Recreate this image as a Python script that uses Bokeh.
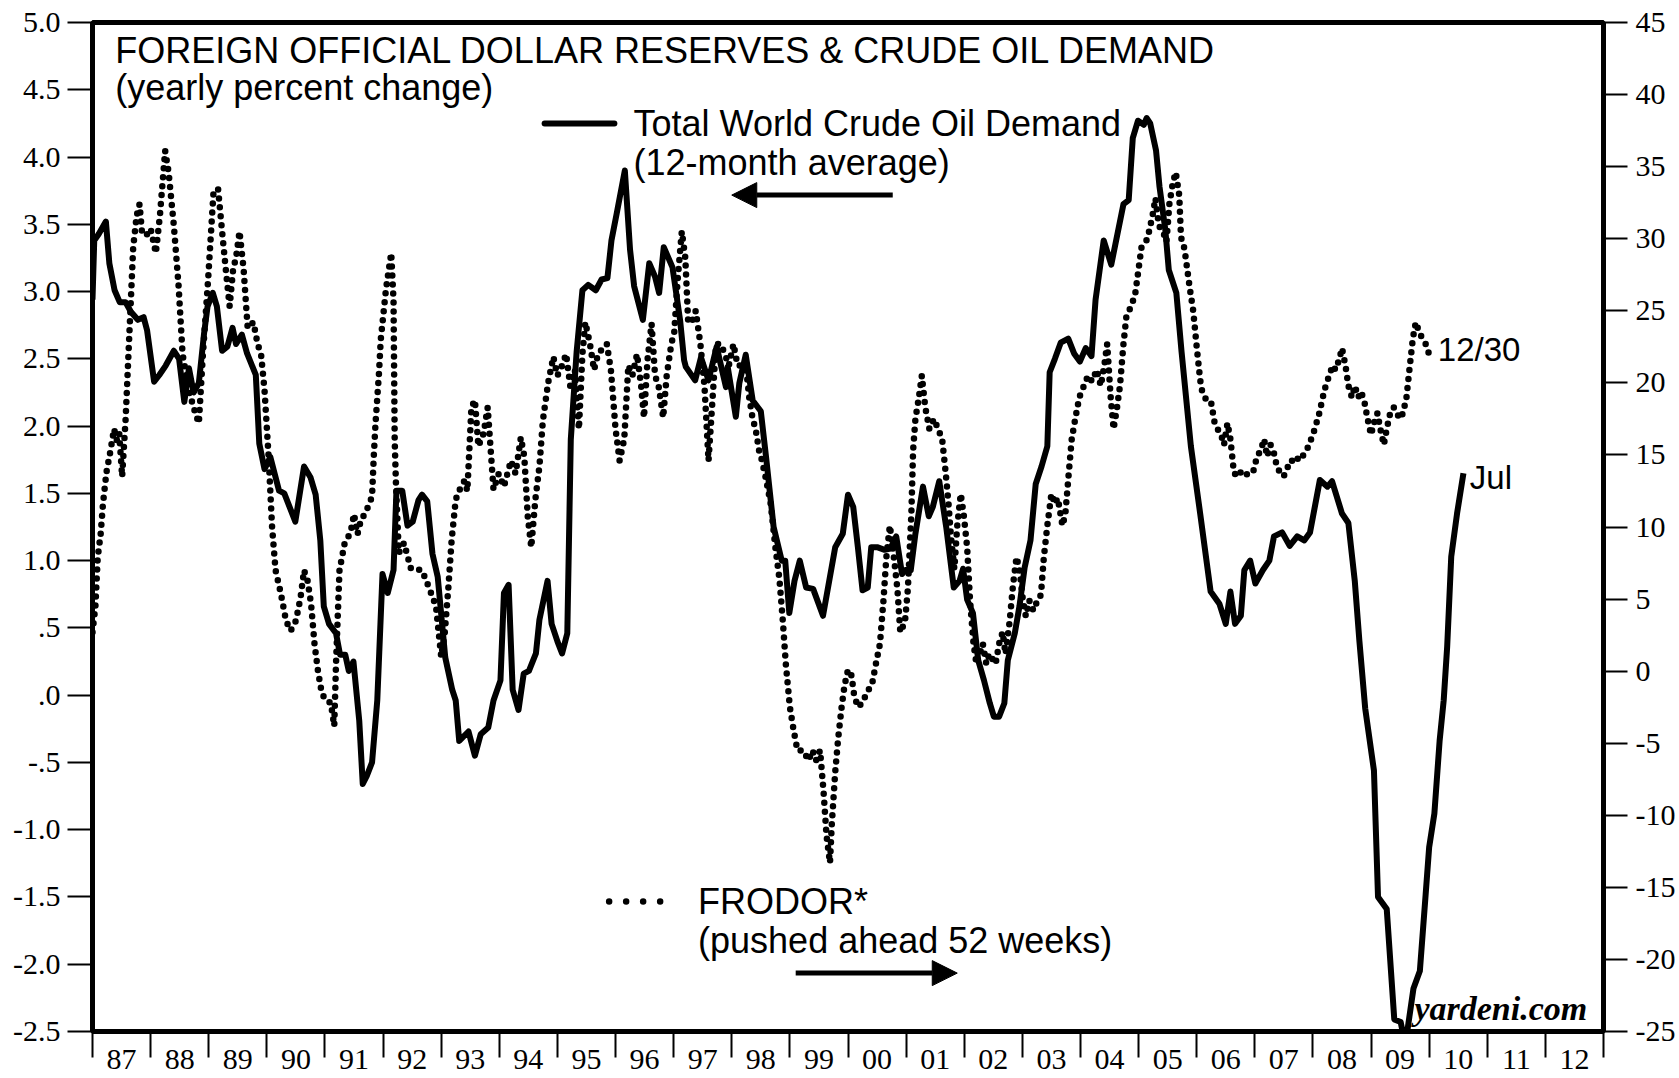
from bokeh.plotting import figure
from bokeh.models import (Range1d, LinearAxis, FixedTicker, Label,
                          Arrow, NormalHead)
from bokeh.embed import file_html
from bokeh.resources import INLINE

# ---------------- data ----------------
# Total World Crude Oil Demand, 12-month average, yearly % change (left axis)
oil_dates = [
    1987.00, 1987.03, 1987.11, 1987.23, 1987.29, 1987.38, 1987.47, 1987.57, 1987.66, 1987.78, 1987.88, 1987.94,
    1988.06, 1988.15, 1988.26, 1988.40, 1988.49, 1988.58, 1988.66, 1988.74, 1988.83, 1988.92, 1988.98,
    1989.07, 1989.14, 1989.23, 1989.32, 1989.41, 1989.47, 1989.57, 1989.66, 1989.81, 1989.87, 1989.96,
    1990.06, 1990.21, 1990.30, 1990.49, 1990.64, 1990.75, 1990.84, 1990.92, 1990.98,
    1991.07, 1991.19, 1991.26, 1991.35, 1991.41, 1991.49, 1991.59, 1991.65, 1991.72, 1991.81, 1991.90, 1991.99,
    1992.08, 1992.18, 1992.23, 1992.33, 1992.42, 1992.51, 1992.61, 1992.67, 1992.76, 1992.85, 1992.94,
    1993.07, 1993.19, 1993.25, 1993.31, 1993.47, 1993.58, 1993.68, 1993.81, 1993.90,
    1994.02, 1994.08, 1994.16, 1994.23, 1994.33, 1994.42, 1994.51, 1994.63, 1994.69, 1994.83, 1994.90,
    1995.00, 1995.08, 1995.17, 1995.23, 1995.33, 1995.43, 1995.53, 1995.66, 1995.76, 1995.86, 1995.93,
    1996.02, 1996.16, 1996.25, 1996.32, 1996.47, 1996.58, 1996.68, 1996.75, 1996.83, 1996.98,
    1997.11, 1997.18, 1997.21, 1997.37, 1997.47, 1997.60, 1997.74, 1997.90, 1997.93,
    1998.07, 1998.13, 1998.24, 1998.36, 1998.50, 1998.59, 1998.72, 1998.86, 1998.92, 1998.99,
    1999.08, 1999.17, 1999.28, 1999.40, 1999.57, 1999.78, 1999.91,
    2000.00, 2000.09, 2000.17, 2000.25, 2000.34, 2000.40, 2000.50, 2000.63, 2000.73, 2000.83, 2000.93, 2000.99,
    2001.08, 2001.16, 2001.29, 2001.39, 2001.46, 2001.57, 2001.69, 2001.82, 2001.92, 2001.98,
    2002.05, 2002.15, 2002.24, 2002.34, 2002.44, 2002.51, 2002.60, 2002.69, 2002.75, 2002.87, 2002.95,
    2003.04, 2003.14, 2003.23, 2003.33, 2003.43, 2003.47, 2003.56, 2003.66, 2003.79, 2003.89, 2003.99,
    2004.09, 2004.19, 2004.26, 2004.40, 2004.53, 2004.74, 2004.83, 2004.90, 2004.99,
    2005.09, 2005.14, 2005.20, 2005.30, 2005.36, 2005.46, 2005.52, 2005.65, 2005.74, 2005.90,
    2006.06, 2006.24, 2006.39, 2006.50, 2006.58, 2006.66, 2006.76, 2006.82, 2006.92,
    2007.01, 2007.14, 2007.25, 2007.33, 2007.47, 2007.60, 2007.73, 2007.85, 2007.95,
    2008.12, 2008.25, 2008.33, 2008.50, 2008.61, 2008.72, 2008.80, 2008.90,
    2009.05, 2009.12, 2009.27, 2009.40, 2009.51, 2009.59, 2009.73, 2009.84, 2009.94,
    2010.00, 2010.09, 2010.18, 2010.25, 2010.31, 2010.38, 2010.48, 2010.59,
]
oil_pct = [
    2.94, 3.38, 3.43, 3.52, 3.21, 3.01, 2.92, 2.92, 2.85, 2.79, 2.81, 2.71,
    2.33, 2.38, 2.45, 2.56, 2.50, 2.18, 2.43, 2.25, 2.32, 2.69, 2.89,
    2.99, 2.89, 2.56, 2.59, 2.73, 2.61, 2.68, 2.54, 2.38, 1.87, 1.68,
    1.77, 1.52, 1.50, 1.29, 1.70, 1.62, 1.49, 1.15, 0.66,
    0.53, 0.46, 0.30, 0.30, 0.18, 0.25, -0.19, -0.66, -0.60, -0.50, -0.04, 0.90,
    0.76, 0.93, 1.52, 1.52, 1.26, 1.29, 1.45, 1.49, 1.44, 1.05, 0.88,
    0.28, 0.04, -0.04, -0.34, -0.27, -0.45, -0.29, -0.24, -0.04,
    0.11, 0.76, 0.82, 0.04, -0.11, 0.16, 0.18, 0.31, 0.56, 0.85, 0.53,
    0.40, 0.31, 0.46, 1.90, 2.55, 3.01, 3.05, 3.01, 3.09, 3.10, 3.38,
    3.58, 3.90, 3.31, 3.04, 2.79, 3.21, 3.11, 2.99, 3.33, 3.18,
    2.79, 2.49, 2.44, 2.34, 2.51, 2.34, 2.59, 2.29, 2.44,
    2.07, 2.32, 2.53, 2.19, 2.11, 1.77, 1.25, 1.00, 1.00, 0.61,
    0.85, 1.00, 0.80, 0.79, 0.59, 1.10, 1.20,
    1.49, 1.40, 1.10, 0.78, 0.80, 1.10, 1.10, 1.08, 1.09, 1.18, 0.90, 0.93,
    0.93, 1.20, 1.55, 1.33, 1.40, 1.59, 1.25, 0.80, 0.85, 0.94,
    0.71, 0.61, 0.26, 0.11, -0.06, -0.16, -0.16, -0.06, 0.26, 0.46, 0.66,
    0.95, 1.15, 1.57, 1.70, 1.85, 2.40, 2.50, 2.62, 2.65, 2.54, 2.48,
    2.58, 2.52, 2.94, 3.38, 3.20, 3.65, 3.68, 4.14, 4.27,
    4.24, 4.29, 4.25, 4.05, 3.78, 3.46, 3.16, 2.99, 2.55, 1.85,
    1.35, 0.77, 0.68, 0.53, 0.77, 0.53, 0.59, 0.93, 1.00,
    0.83, 0.93, 1.00, 1.18, 1.21, 1.11, 1.18, 1.15, 1.21,
    1.60, 1.55, 1.59, 1.35, 1.28, 0.85, 0.40, -0.10,
    -0.56, -1.50, -1.59, -2.41, -2.43, -2.60, -2.18, -2.05, -1.48,
    -1.13, -0.88, -0.34, -0.04, 0.36, 1.03, 1.35, 1.65,
]

# FRODOR, yearly % change, pushed ahead 52 weeks (right axis)
frodor_dates = [
    1987.00, 1987.05, 1987.09, 1987.14, 1987.18, 1987.24, 1987.31, 1987.37, 1987.42, 1987.46, 1987.51, 1987.57,
    1987.63, 1987.70, 1987.76, 1987.81, 1987.85, 1987.92,
    1988.00, 1988.09, 1988.16, 1988.25, 1988.31, 1988.40, 1988.48, 1988.55, 1988.66, 1988.77, 1988.83, 1988.90, 1988.99,
    1989.08, 1989.16, 1989.23, 1989.30, 1989.36, 1989.42, 1989.47, 1989.53, 1989.60, 1989.67, 1989.77, 1989.84,
    1989.90, 1989.96,
    1990.03, 1990.09, 1990.15, 1990.24, 1990.33, 1990.41, 1990.50, 1990.58, 1990.64, 1990.70, 1990.76, 1990.82,
    1990.88, 1990.94,
    1991.00, 1991.10, 1991.16, 1991.19, 1991.22, 1991.25, 1991.34, 1991.44, 1991.50, 1991.56, 1991.62, 1991.70,
    1991.81, 1991.84, 1991.87, 1991.93, 1991.96,
    1992.05, 1992.14, 1992.18, 1992.20, 1992.22, 1992.27, 1992.36, 1992.48, 1992.67, 1992.79, 1992.91,
    1993.00, 1993.06, 1993.12, 1993.18, 1993.25, 1993.34, 1993.40, 1993.45, 1993.52, 1993.58, 1993.64, 1993.73,
    1993.80, 1993.90, 1993.99,
    1994.08, 1994.20, 1994.28, 1994.37, 1994.43, 1994.49, 1994.55, 1994.62, 1994.69, 1994.75, 1994.84, 1994.93,
    1995.00, 1995.08, 1995.15, 1995.22, 1995.30, 1995.37, 1995.43, 1995.48, 1995.56, 1995.63, 1995.70, 1995.78,
    1995.85, 1995.92,
    1996.00, 1996.07, 1996.15, 1996.22, 1996.29, 1996.37, 1996.44, 1996.49, 1996.55, 1996.62, 1996.68, 1996.74,
    1996.82, 1996.88, 1996.96,
    1997.01, 1997.07, 1997.14, 1997.20, 1997.25, 1997.31, 1997.38, 1997.46, 1997.53, 1997.60, 1997.66, 1997.73,
    1997.81, 1997.88, 1997.95,
    1998.03, 1998.10, 1998.17, 1998.25, 1998.30, 1998.36, 1998.41, 1998.47, 1998.52, 1998.60, 1998.67, 1998.75,
    1998.82, 1998.88, 1998.93,
    1999.00, 1999.06, 1999.13, 1999.23, 1999.32, 1999.39, 1999.45, 1999.52, 1999.58, 1999.63, 1999.69, 1999.72,
    1999.78, 1999.83, 1999.89, 1999.94,
    2000.00, 2000.06, 2000.11, 2000.18, 2000.26, 2000.33, 2000.41, 2000.48, 2000.55, 2000.61, 2000.66, 2000.72,
    2000.77, 2000.85, 2000.90, 2000.98,
    2001.03, 2001.09, 2001.12, 2001.16, 2001.22, 2001.27, 2001.33, 2001.40, 2001.48, 2001.55, 2001.62, 2001.68,
    2001.73, 2001.77, 2001.83, 2001.88, 2001.94, 2001.99,
    2002.05, 2002.10, 2002.16, 2002.21, 2002.27, 2002.32, 2002.38, 2002.43, 2002.49, 2002.54, 2002.60, 2002.66,
    2002.71, 2002.78, 2002.84, 2002.90, 2002.95,
    2003.01, 2003.06, 2003.12, 2003.19, 2003.26, 2003.32, 2003.37, 2003.43, 2003.50, 2003.56, 2003.61, 2003.69,
    2003.74, 2003.80, 2003.85, 2003.91, 2003.98,
    2004.06, 2004.13, 2004.20, 2004.28, 2004.35, 2004.41, 2004.46, 2004.52, 2004.57, 2004.63, 2004.68, 2004.74,
    2004.79, 2004.87, 2004.94,
    2005.00, 2005.05, 2005.13, 2005.18, 2005.24, 2005.29, 2005.35, 2005.42, 2005.48, 2005.53, 2005.59, 2005.64,
    2005.70, 2005.73, 2005.79, 2005.88, 2005.94,
    2006.00, 2006.06, 2006.09, 2006.14, 2006.20, 2006.25, 2006.31, 2006.36, 2006.42, 2006.47, 2006.53, 2006.58,
    2006.64, 2006.69, 2006.75, 2006.82, 2006.90, 2006.97,
    2007.04, 2007.10, 2007.16, 2007.21, 2007.27, 2007.32, 2007.38, 2007.43, 2007.49, 2007.54, 2007.60, 2007.65,
    2007.71, 2007.76, 2007.82, 2007.89, 2007.95,
    2008.00, 2008.06, 2008.11, 2008.17, 2008.22, 2008.28, 2008.34, 2008.39, 2008.45, 2008.50, 2008.56, 2008.61,
    2008.67, 2008.72, 2008.78, 2008.83, 2008.89, 2008.94,
    2009.00, 2009.05, 2009.11, 2009.16, 2009.22, 2009.27, 2009.33, 2009.39, 2009.44, 2009.50, 2009.55, 2009.61,
    2009.66, 2009.72, 2009.77, 2009.83, 2009.88, 2009.94, 2009.99,
]
frodor_pct = [
    2.7, 4.5, 7.9, 9.5, 11.6, 13.8, 15.3, 16.8, 16.0, 16.5, 13.5, 17.5,
    23.0, 29.4, 31.6, 32.4, 30.5, 30.2,
    30.7, 29.0, 31.6, 36.1, 34.6, 30.9, 26.8, 22.0, 19.4, 17.9, 17.2, 22.0, 27.2,
    33.1, 33.5, 30.5, 27.6, 25.3, 27.9, 28.7, 30.5, 27.9, 23.8, 24.2, 22.7,
    22.0, 19.5,
    14.9, 10.0, 7.0, 5.4, 3.5, 2.8, 3.5, 5.1, 7.0, 6.3, 4.7, 1.9,
    0.0, -1.4,
    -2.0, -2.2, -3.8, 0.5, 3.8, 7.0, 8.9, 9.6, 10.9, 9.5, 10.5, 11.0,
    12.1, 14.9, 17.2, 20.7, 23.0,
    26.5, 29.0, 25.7, 16.0, 13.2, 8.2, 8.9, 7.1, 7.0, 5.8, 4.5,
    1.0, 2.6, 5.6, 9.1, 11.9, 12.8, 13.2, 12.5, 18.3, 18.8, 15.6, 16.5,
    18.3, 12.6, 13.7,
    12.8, 14.6, 13.7, 16.2, 14.9, 10.7, 8.6, 11.9, 14.2, 17.4, 20.0, 21.8,
    20.5, 21.2, 22.0, 19.8, 20.9, 16.8, 22.0, 24.2, 22.7, 20.9, 22.0, 22.4,
    22.7, 20.9,
    16.8, 14.6, 16.1, 21.2, 20.5, 22.0, 19.8, 17.6, 21.6, 24.1, 20.5, 19.8,
    17.6, 20.5, 22.7,
    23.5, 27.2, 30.5, 28.7, 24.2, 24.2, 25.0, 22.7, 19.8, 14.6, 18.3, 22.7,
    22.7, 22.0, 21.2,
    22.7, 21.2, 21.2, 20.9, 19.0, 17.5, 16.8, 15.3, 14.6, 13.1, 11.6, 8.6,
    6.4, 3.4, 0.5,
    -2.5, -4.0, -5.5, -5.5, -6.2, -5.5, -6.2, -5.5, -8.4, -11.4, -13.3, -10.7,
    -7.0, -4.7, -2.5, -1.0,
    0.1, -0.3, -1.8, -2.5, -2.1, -1.4, -1.0, 0.5, 1.9, 4.9, 7.9, 10.1,
    8.6, 5.7, 2.7, 3.4,
    5.7, 10.9, 15.3, 17.5, 19.0, 20.5, 18.3, 16.8, 17.5, 16.8, 16.1, 13.8,
    11.6, 9.4, 7.1, 10.1, 12.3, 10.9,
    8.6, 4.9, 1.9, 0.5, 1.2, 1.9, 0.5, 1.2, 0.8, 0.5, 1.9, 2.7,
    1.2, 3.4, 6.0, 7.9, 7.1,
    4.9, 3.8, 4.9, 4.2, 4.9, 5.3, 7.9, 10.1, 12.3, 11.6, 12.0, 10.1,
    10.9, 13.8, 16.1, 17.5, 19.0,
    19.8, 20.5, 20.1, 20.9, 19.8, 21.2, 22.7, 19.0, 16.8, 18.3, 19.8, 22.7,
    24.6, 25.3, 26.1,
    27.9, 29.4, 29.8, 30.5, 31.6, 32.8, 30.9, 30.5, 29.8, 32.4, 33.9, 34.6,
    33.0, 30.1, 29.3, 26.6, 25.0,
    22.5, 20.2, 19.5, 19.0, 18.6, 18.6, 17.2, 16.8, 16.4, 15.7, 17.2, 16.1,
    13.8, 13.5, 13.8, 13.5, 13.8, 13.8,
    14.9, 15.3, 16.1, 14.9, 15.7, 15.3, 14.2, 13.8, 13.5, 13.8, 14.6, 14.6,
    14.9, 14.6, 14.9, 15.3, 15.9,
    16.4, 17.2, 17.9, 19.0, 19.8, 20.5, 21.2, 20.9, 21.6, 22.4, 21.2, 19.8,
    19.0, 19.8, 19.0, 19.4, 18.6, 17.5,
    16.4, 17.2, 17.9, 16.8, 15.7, 16.8, 17.9, 18.3, 17.9, 17.5, 17.9, 19.0,
    20.9, 23.1, 24.2, 23.5, 23.1, 22.7, 22.1,
]

left_ticks = [5.0, 4.5, 4.0, 3.5, 3.0, 2.5, 2.0, 1.5, 1.0, 0.5, 0.0, -0.5, -1.0, -1.5, -2.0, -2.5]
left_tick_labels = ["5.0", "4.5", "4.0", "3.5", "3.0", "2.5", "2.0", "1.5", "1.0", ".5", ".0",
                    "-.5", "-1.0", "-1.5", "-2.0", "-2.5"]
right_ticks = [45, 40, 35, 30, 25, 20, 15, 10, 5, 0, -5, -10, -15, -20, -25]
right_tick_labels = ["45", "40", "35", "30", "25", "20", "15", "10", "5", "0",
                     "-5", "-10", "-15", "-20", "-25"]
year_edges = list(range(1987, 2014))
year_labels = ["87", "88", "89", "90", "91", "92", "93", "94", "95", "96", "97", "98", "99",
               "00", "01", "02", "03", "04", "05", "06", "07", "08", "09", "10", "11", "12"]

title_line1 = "FOREIGN OFFICIAL DOLLAR RESERVES & CRUDE OIL DEMAND"
title_line2 = "(yearly percent change)"
oil_name = ["Total World Crude Oil Demand", "(12-month average)"]
frodor_name = ["FRODOR*", "(pushed ahead 52 weeks)"]

assert len(oil_dates) == len(oil_pct)
assert len(frodor_dates) == len(frodor_pct)

# ---------------- figure ----------------
SANS = "Liberation Sans"
SERIF = "Liberation Serif"

p = figure(width=1679, height=1078,
           x_range=Range1d(1987, 2013), y_range=Range1d(-2.5, 5.0),
           output_backend="svg", toolbar_location=None,
           min_border_left=92, min_border_right=76, min_border_top=22, min_border_bottom=47)
p.extra_y_ranges = {"frodor": Range1d(-25, 45)}
p.xgrid.visible = False
p.ygrid.visible = False
p.background_fill_color = "white"
p.border_fill_color = "white"
p.outline_line_color = "black"
p.outline_line_width = 5
p.outline_line_alpha = 1.0

# x axis: labels centred in each year, tick marks (minor) at year boundaries
year_mids = [e + 0.5 for e in year_edges[:-1]]
xa = p.xaxis[0]
xa.ticker = FixedTicker(ticks=year_mids, minor_ticks=year_edges)
xa.major_label_overrides = dict(zip(year_mids, year_labels))
xa.axis_line_color = None
xa.major_tick_out = 0
xa.major_tick_in = 0
xa.major_tick_line_color = None
xa.minor_tick_out = 26
xa.minor_tick_in = 0
xa.minor_tick_line_width = 2
xa.minor_tick_line_color = "black"
xa.major_label_standoff = -8
xa.major_label_text_font = SERIF
xa.major_label_text_font_size = "30px"
xa.major_label_text_color = "black"

# left axis
ya = p.yaxis[0]
ya.ticker = FixedTicker(ticks=left_ticks)
ya.major_label_overrides = dict(zip(left_ticks, left_tick_labels))
ya.axis_line_color = None
ya.major_tick_out = 25
ya.major_tick_in = 0
ya.major_tick_line_width = 2
ya.minor_tick_line_color = None
ya.major_label_standoff = 7
ya.major_label_text_font = SERIF
ya.major_label_text_font_size = "30px"
ya.major_label_text_color = "black"

# right axis
ra = LinearAxis(y_range_name="frodor", ticker=FixedTicker(ticks=right_ticks))
ra.major_label_overrides = dict(zip(right_ticks, right_tick_labels))
ra.axis_line_color = None
ra.major_tick_out = 24
ra.major_tick_in = 0
ra.major_tick_line_width = 2
ra.minor_tick_line_color = None
ra.major_label_standoff = 8
ra.major_label_text_font = SERIF
ra.major_label_text_font_size = "30px"
ra.major_label_text_color = "black"
p.add_layout(ra, "right")

# ---------------- series ----------------
p.line(frodor_dates, frodor_pct, y_range_name="frodor", line_color="black",
       line_width=6.5, line_dash="0 9", line_cap="round", line_join="round")
p.line(oil_dates, oil_pct, line_color="black", line_width=6, line_join="round")

# ---------------- annotations ----------------
def add_label(x, y, text, size="36px", font=SANS, align="left", style="normal"):
    p.add_layout(Label(x=x, y=y, text=text, text_font=font, text_font_size=size,
                       text_align=align, text_baseline="middle", text_color="black",
                       text_font_style=style))

add_label(1987.39, 4.79, title_line1)
add_label(1987.39, 4.515, title_line2)

# oil demand key
p.add_layout(Arrow(x_start=1994.78, y_start=4.249, x_end=1995.98, y_end=4.249, end=None,
                   line_width=6, line_color="black", line_cap="round"))
add_label(1996.31, 4.249, oil_name[0])
add_label(1996.31, 3.96, oil_name[1])
p.add_layout(Arrow(x_start=2000.77, y_start=3.717, x_end=1998.0, y_end=3.717,
                   line_width=5, line_color="black",
                   end=NormalHead(size=25, fill_color="black", line_color="black")))

# FRODOR key
p.add_layout(Arrow(x_start=1995.89, y_start=-1.533, x_end=1996.785, y_end=-1.533, end=None,
                   line_width=6.5, line_color="black", line_dash="0 17", line_cap="round"))
add_label(1997.42, -1.531, frodor_name[0])
add_label(1997.42, -1.823, frodor_name[1])
p.add_layout(Arrow(x_start=1999.10, y_start=-2.066, x_end=2001.88, y_end=-2.066,
                   line_width=5, line_color="black",
                   end=NormalHead(size=25, fill_color="black", line_color="black")))

# end labels
add_label(2010.15, 2.57, "12/30", size="33px")
add_label(2010.70, 1.62, "Jul", size="33px")
add_label(2012.72, -2.33, "yardeni.com", size="34px", font=SERIF, align="right",
          style="bold italic")

open("out.html", "w").write(file_html(p, INLINE))
